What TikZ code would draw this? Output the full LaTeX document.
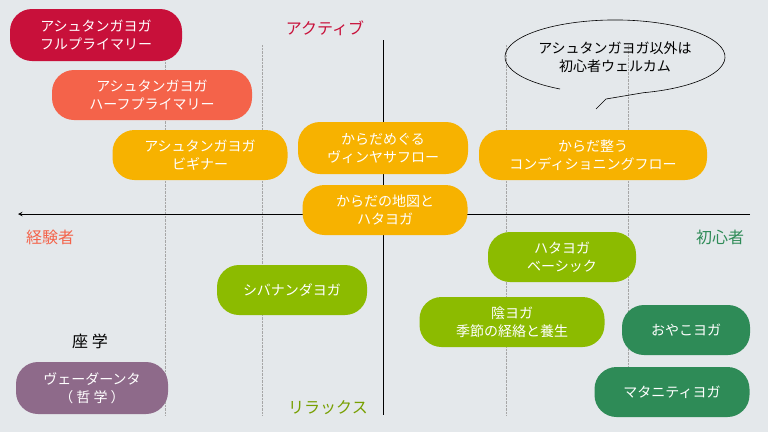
\documentclass[tikz,border=0pt]{standalone}
\usepackage{fontspec}
\setmainfont{Noto Sans CJK JP}
\usetikzlibrary{shapes.geometric}
\definecolor{bg}{HTML}{E4E8EB}
\definecolor{crim}{HTML}{C8103A}
\definecolor{coral}{HTML}{F4634A}
\definecolor{amber}{HTML}{F7B200}
\definecolor{lime}{HTML}{8CBB00}
\definecolor{dgreen}{HTML}{2E8B57}
\definecolor{plum}{HTML}{8E6A8A}
\tikzset{
  pill/.style={rounded corners=22pt,text=white,align=center,font=\fontsize{14}{18}\selectfont,inner sep=0pt},
  tag/.style={font=\fontsize{16}{19}\selectfont}
}
\begin{document}
\begin{tikzpicture}[x=1pt,y=-1pt]
\fill[bg] (0,0) rectangle (768,432);
\useasboundingbox (0,0) rectangle (768,432);
% dotted guides
\foreach \gx in {165,262,506,628}
  \draw[densely dotted,gray!70] (\gx,45) -- (\gx,415);
% axes
\draw[-stealth,line width=1pt] (750,214) -- (18,214);
\draw[line width=1pt] (383,40) -- (383,415);
\node[tag,text=crim] (act) at (325,28) {アクティブ};
\node[tag,text=lime!85!black] (rel) at (328,408) {リラックス};
\node[tag,text=coral] (exp) at (50,237) {経験者};
\node[tag,text=dgreen] (beg) at (720,237) {初心者};
\node[tag] (zag) at (90,341) {座 学};
% boxes
\node[pill,fill=crim,minimum width=172,minimum height=52] (full) at (96,35) {アシュタンガヨガ\\フルプライマリー};
\node[pill,fill=coral,minimum width=200,minimum height=50] (half) at (152,95) {アシュタンガヨガ\\ハーフプライマリー};
\node[pill,fill=amber,minimum width=175,minimum height=50] (begn) at (200,155) {アシュタンガヨガ\\ビギナー};
\node[pill,fill=amber,minimum width=170,minimum height=52] (vin) at (383,148) {からだめぐる\\ヴィンヤサフロー};
\node[pill,fill=amber,minimum width=228,minimum height=50] (cond) at (593,155) {からだ整う\\コンディショニングフロー};
\node[pill,fill=amber,minimum width=165,minimum height=50] (map) at (385,210) {からだの地図と\\ハタヨガ};
\node[pill,fill=lime,minimum width=148,minimum height=50] (hata) at (562,257) {ハタヨガ\\ベーシック};
\node[pill,fill=lime,minimum width=150,minimum height=50] (siva) at (292,290) {シバナンダヨガ};
\node[pill,fill=lime,minimum width=185,minimum height=50] (yin) at (512,322) {陰ヨガ\\季節の経絡と養生};
\node[pill,fill=dgreen,minimum width=128,minimum height=50] (oya) at (686,330) {おやこヨガ};
\node[pill,fill=dgreen,minimum width=155,minimum height=50] (mat) at (672,392) {マタニティヨガ};
\node[pill,fill=plum,minimum width=152,minimum height=52] (ved) at (92,388) {ヴェーダーンタ\\（ 哲 学 ）};
% speech bubble
\draw[line width=0.6pt] (560,89) arc[start angle=120,end angle=435,x radius=110,y radius=37] -- (606,99) -- (596,109);
\node[align=center,font=\fontsize{14}{18}\selectfont] (bub) at (615,57) {アシュタンガヨガ以外は\\初心者ウェルカム};
\end{tikzpicture}
\end{document}
